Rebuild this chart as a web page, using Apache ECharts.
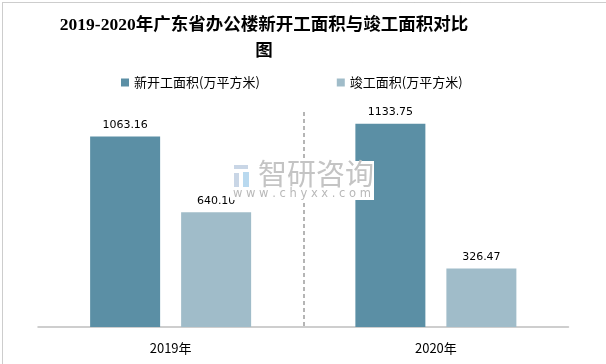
<!DOCTYPE html>
<html><head><meta charset="utf-8">
<script src="https://cdn.jsdelivr.net/npm/echarts@6/dist/echarts.min.js"></script>
<style>html,body{margin:0;padding:0;background:#fff}#c{width:606px;height:364px}</style>
</head><body><div id="c"></div>
<script>
var titleText = '2019-2020年广东省办公楼新开工面积与竣工面积对比\n图';
var categories = ['2019年', '2020年'];
var seriesNames = ['新开工面积(万平方米)', '竣工面积(万平方米)'];
var newStart = [1063.16, 1133.75];
var completed = [640.10, 326.47];

var chart = echarts.init(document.getElementById('c'), null, {renderer: 'canvas'});
chart.setOption({
  backgroundColor: '#fff',
  animation: false,
  title: {
    text: titleText, left: 259, top: 8, textAlign: 'center',
    textStyle: {fontFamily: 'Liberation Serif, "Noto Sans CJK SC"', fontWeight: 'bold', fontSize: 17.5, color: '#000', lineHeight: 25.5}
  },
  legend: {
    left: 116, top: 71, itemWidth: 8, itemHeight: 8, itemGap: 77, icon: 'rect',
    textStyle: {fontSize: 13, color: '#000', fontFamily: '"Noto Sans CJK SC", sans-serif'},
    data: seriesNames
  },
  grid: {left: 38, right: 37.5, top: 112, bottom: 37},
  xAxis: {
    type: 'category', data: categories,
    axisLine: {lineStyle: {color: '#bfbfbf', width: 1.5}},
    axisTick: {show: false},
    axisLabel: {color: '#000', fontSize: 13, margin: 15, fontFamily: '"Noto Sans CJK SC", sans-serif'},
    splitLine: {show: true, showMinLine: false, showMaxLine: false, lineStyle: {color: '#b5b5b5', type: [4, 3], width: 2}}
  },
  yAxis: {type: 'value', min: 0, max: 1200, show: false, splitLine: {show: false}},
  series: [
    {name: seriesNames[0], type: 'bar', data: newStart, barWidth: 70, barGap: '30%',
     itemStyle: {color: '#5b8fa5'},
     label: {show: true, position: 'top', distance: 6, color: '#000', fontSize: 11, fontFamily: 'DejaVu Sans', formatter: function(p){return p.value.toFixed(2);}}},
    {name: seriesNames[1], type: 'bar', data: completed, barWidth: 70,
     itemStyle: {color: '#a0bcc9'},
     label: {show: true, position: 'top', distance: 6, color: '#000', fontSize: 11, fontFamily: 'DejaVu Sans', formatter: function(p){return p.value.toFixed(2);}}}
  ],
  graphic: [
    {type: 'rect', z: 100, left: 0, top: 0, shape: {x: 0.5, y: 0.5, width: 605, height: 363}, style: {fill: null, stroke: '#9a9a9a', lineWidth: 1, lineDash: [1, 1]}},
    {type: 'rect', z: 100, shape: {x: 230, y: 161, width: 144, height: 39}, style: {fill: '#fff'}},
    {type: 'rect', z: 101, shape: {x: 234, y: 165, width: 14, height: 4}, style: {fill: '#c9d6e6'}},
    {type: 'rect', z: 101, shape: {x: 234, y: 173, width: 5, height: 14}, style: {fill: '#c9d6e6'}},
    {type: 'rect', z: 101, shape: {x: 243, y: 172, width: 6, height: 15}, style: {fill: '#b9d9ef'}},
    {type: 'text', z: 101, style: {x: 258, y: 159, text: '智研咨询', fontSize: 29, fill: '#c4c4c4', fontFamily: '"Noto Sans CJK SC"'}},
    {type: 'text', z: 101, style: {x: 233, y: 188, text: 'w w w . c h y x x . c o m', fontSize: 11.5, fill: '#b8b8b8', fontFamily: 'DejaVu Sans'}}
  ]
});
</script></body></html>
